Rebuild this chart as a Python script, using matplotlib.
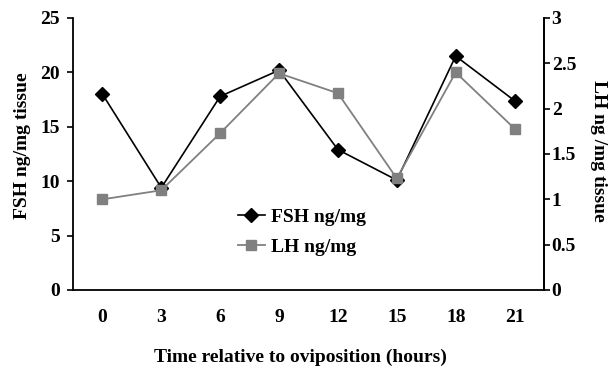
import matplotlib
matplotlib.use("Agg")
import matplotlib.pyplot as plt

hours = ["0", "3", "6", "9", "12", "15", "18", "21"]
fsh = [18.0, 9.4, 17.8, 20.2, 12.9, 10.1, 21.5, 17.4]
lh = [1.00, 1.10, 1.73, 2.39, 2.17, 1.23, 2.40, 1.78]
fsh_ticks = [0, 5, 10, 15, 20, 25]
lh_ticks = [0, 0.5, 1, 1.5, 2, 2.5, 3]
lh_ticklabels = ["0", "0.5", "1", "1.5", "2", "2.5", "3"]

plt.rcParams['font.family'] = ['Liberation Serif', 'DejaVu Serif']
plt.rcParams['font.weight'] = 'bold'
FS = 14

fig = plt.figure(figsize=(6.16, 3.69), dpi=100)
ax = fig.add_axes([73/616, 1-290/369, (544-73)/616, 272/369])
ax2 = ax.twinx()

x = list(range(len(hours)))
l1, = ax.plot(x, fsh, color='#000000', lw=1.2, marker='D', ms=7, zorder=3)
l2, = ax2.plot(x, lh, color='#808080', lw=1.3, marker='s', ms=6.5, zorder=2)

ax.set_xlim(-0.5, len(hours)-0.5)
ax.set_ylim(0, 25)
ax2.set_ylim(0, 3)
ax.set_xticks(x)
ax.set_xticklabels(hours, fontsize=FS, fontweight='bold')
ax.set_yticks(fsh_ticks)
ax.set_yticklabels([str(t) for t in fsh_ticks], fontsize=FS, fontweight='bold')
ax2.set_yticks(lh_ticks)
ax2.set_yticklabels(lh_ticklabels, fontsize=FS, fontweight='bold')

ax.tick_params(axis='x', length=0, pad=14)
ax.tick_params(axis='y', direction='out', length=4.5, width=1.2, pad=5)
ax2.tick_params(axis='y', direction='out', length=4.5, width=1.2, pad=1)

for a in (ax, ax2):
    a.spines['top'].set_visible(False)
    for s in ('left', 'right', 'bottom'):
        a.spines[s].set_linewidth(1.3)
ax2.spines['left'].set_visible(False)
ax2.spines['bottom'].set_visible(False)

ax.set_ylabel("FSH ng/mg tissue", fontsize=FS, fontweight='bold', va='center')
ax.yaxis.set_label_coords((23-73)/471, 0.53)
ax2.set_ylabel("LH ng /mg tissue", fontsize=FS, fontweight='bold', rotation=270, va='center')
ax2.yaxis.set_label_coords((599-73)/471, 0.51)
ax.set_xlabel("Time relative to oviposition (hours)", fontsize=FS, fontweight='bold', va='center')
ax.xaxis.set_label_coords((300-73)/471, (290-357)/272)

ax2.legend([l1, l2], ["FSH ng/mg", "LH ng/mg"], loc='center left',
           bbox_to_anchor=((228-73)/471, (290-232)/272), frameon=False,
           prop={'size': FS, 'weight': 'bold'}, handlelength=1.4,
           handletextpad=0.3, labelspacing=0.65, borderpad=0, markerscale=1.0)

fig.savefig("out.png", dpi=100)
